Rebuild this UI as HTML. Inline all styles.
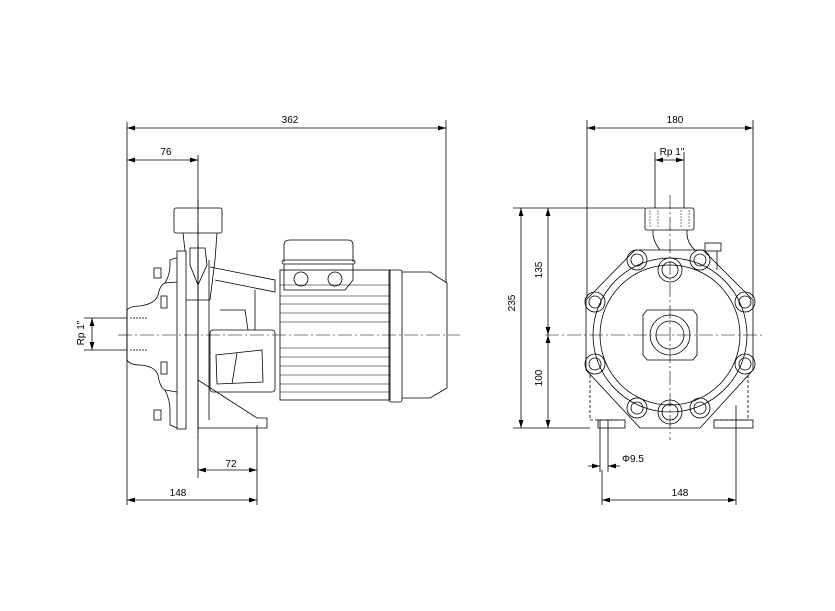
<!DOCTYPE html>
<html><head><style>
body{margin:0;background:#fff}
svg{display:block}
text{font-family:"Liberation Sans",sans-serif;font-size:10px;fill:#000}
</style></head><body>
<svg width="835" height="611" viewBox="0 0 835 611" xmlns="http://www.w3.org/2000/svg">
<defs>
<marker id="a" viewBox="0 0 10 6" refX="10" refY="3" markerWidth="8" markerHeight="5" orient="auto-start-reverse" markerUnits="userSpaceOnUse"><path d="M0,0L10,3L0,6z" fill="#000"/></marker>
</defs>
<rect width="835" height="611" fill="#fff"/>
<g stroke="#000" stroke-width="0.8" fill="none">
<!-- LEFT: dimensions -->
<line x1="127" y1="122" x2="127" y2="505"/>
<line x1="198" y1="155" x2="198" y2="478"/>
<line x1="446" y1="120" x2="446" y2="282"/>
<line x1="257" y1="425" x2="257" y2="505"/>
<line x1="127" y1="128" x2="446" y2="128" marker-start="url(#a)" marker-end="url(#a)"/>
<line x1="127" y1="160" x2="198" y2="160" marker-start="url(#a)" marker-end="url(#a)"/>
<line x1="198" y1="470" x2="257" y2="470" marker-start="url(#a)" marker-end="url(#a)"/>
<line x1="127" y1="500" x2="257" y2="500" marker-start="url(#a)" marker-end="url(#a)"/>
<line x1="84" y1="318" x2="127" y2="318"/>
<line x1="84" y1="350" x2="127" y2="350"/>
<line x1="92" y1="318" x2="92" y2="350" marker-start="url(#a)" marker-end="url(#a)"/>
<!-- centerlines -->
<line x1="118" y1="335" x2="460" y2="335" stroke-dasharray="14,3,2,3" stroke-width="0.6"/>
<line x1="198" y1="200" x2="198" y2="440" stroke-dasharray="14,3,2,3" stroke-width="0.6"/>
<!-- suction -->
<path d="M127,310 Q130,306 140,306 Q155,304 158,295 Q160,285 165,283 L177,282 M127,360 Q130,365 140,365 Q155,366 158,375 Q160,388 165,390 L177,392"/>
<path d="M127,310 L127,360"/>
<path d="M130,318 H148 M130,350 H148" stroke-dasharray="2,1"/>
<path d="M165,283 Q170,275 170,265 L170,260 Q175,258 177,258 M165,390 Q170,400 170,410 L170,425 L177,428"/>
<!-- bolts -->
<rect x="154" y="268" width="7" height="10"/><rect x="161" y="296" width="6" height="12"/><rect x="161" y="362" width="6" height="12"/><rect x="154" y="410" width="7" height="10"/>
<!-- flange plate -->
<rect x="177" y="251" width="9" height="178"/>
<line x1="186" y1="300" x2="210" y2="300"/>
<!-- outlet -->
<rect x="174" y="208" width="48" height="25" rx="2"/>
<path d="M183,233 L185,251 M217,233 L215,260 L210,300"/>
<path d="M190,248 L205,248 L207,265 L198,285 L190,265z"/>
<!-- volute body -->
<path d="M198,251 L198,428 L267,428 L267,418 L257,418 L198,380"/>
<path d="M209,260 L209,420"/>
<path d="M210,267 L275,280 L275,292 L215,280"/>
<!-- bracket -->
<rect x="210" y="330" width="65" height="62" rx="3"/>
<path d="M216,355 L262,350 L263,382 L217,384z M237,353 L232,384"/>
<path d="M220,310 L245,310 L248,330"/>
<path d="M255,290 L255,330"/>
<!-- terminal box -->
<path d="M284,262 L284,245 Q284,240 290,240 L348,240 Q353,240 353,245 L353,262"/>
<rect x="282" y="260" width="73" height="4" rx="2"/>
<path d="M284,264 L284,290 L345,290 L353,280 L353,264"/>
<circle cx="301" cy="279" r="7"/><circle cx="335" cy="279" r="7"/>
<!-- motor -->
<rect x="280" y="270" width="110" height="130"/>
<g stroke-width="0.6">
<line x1="280" y1="285" x2="390" y2="285"/><line x1="280" y1="296" x2="390" y2="296"/>
<line x1="280" y1="304" x2="390" y2="304"/><line x1="280" y1="313" x2="390" y2="313"/>
<line x1="280" y1="322" x2="390" y2="322"/><line x1="280" y1="348" x2="390" y2="348"/>
<line x1="280" y1="357" x2="390" y2="357"/><line x1="280" y1="366" x2="390" y2="366"/>
<line x1="280" y1="375" x2="390" y2="375"/><line x1="280" y1="384" x2="390" y2="384"/>
<line x1="280" y1="392" x2="390" y2="392"/>
</g>
<rect x="389" y="270" width="13" height="132" rx="2"/>
<path d="M402,272 L430,272 L447,283 L447,388 L430,398 L402,398"/>
<!-- RIGHT: dimensions -->
<line x1="587" y1="120" x2="587" y2="298"/>
<line x1="753" y1="120" x2="753" y2="298"/>
<line x1="587" y1="128" x2="753" y2="128" marker-start="url(#a)" marker-end="url(#a)"/>
<line x1="655" y1="152" x2="655" y2="208"/>
<line x1="684" y1="152" x2="684" y2="208"/>
<line x1="655" y1="160" x2="684" y2="160" marker-start="url(#a)" marker-end="url(#a)"/>
<line x1="513" y1="208" x2="645" y2="208"/>
<line x1="513" y1="428" x2="590" y2="428"/>
<line x1="521" y1="208" x2="521" y2="428" marker-start="url(#a)" marker-end="url(#a)"/>
<line x1="548" y1="208" x2="548" y2="335" marker-start="url(#a)" marker-end="url(#a)"/>
<line x1="548" y1="335" x2="548" y2="428" marker-start="url(#a)" marker-end="url(#a)"/>
<line x1="545" y1="335" x2="765" y2="335" stroke-dasharray="14,3,2,3" stroke-width="0.6"/>
<line x1="670" y1="195" x2="670" y2="440" stroke-dasharray="14,3,2,3" stroke-width="0.6"/>
<line x1="600" y1="420" x2="600" y2="472"/><line x1="608" y1="420" x2="608" y2="472"/>
<line x1="588" y1="466" x2="600" y2="466" marker-end="url(#a)"/>
<line x1="620" y1="466" x2="608" y2="466" marker-end="url(#a)"/>
<line x1="602" y1="470" x2="602" y2="505"/>
<line x1="736" y1="405" x2="736" y2="505"/>
<line x1="602" y1="500" x2="736" y2="500" marker-start="url(#a)" marker-end="url(#a)"/>
<!-- outlet -->
<rect x="645" y="208" width="49" height="22" rx="2"/>
<path d="M650,210 V228 M658,210 V228 M681,210 V228 M689,210 V228" stroke-dasharray="2,1" stroke-width="0.5"/>
<path d="M653,230 Q652,240 660,250 M687,230 Q686,242 695,250"/>
<rect x="705" y="243" width="16" height="8"/>
<path d="M717,251 V270"/>
<!-- octagon body -->
<path d="M635,250 L703,250 L753,300 L753,370 L700,428 L640,428 L586,370 L586,300 z"/>
<path d="M590,375 V420 H620 M748,375 V420 H715" stroke-dasharray="3,2"/>
<rect x="598" y="420" width="27" height="8"/><rect x="714" y="420" width="39" height="8"/>
<circle cx="670" cy="335" r="77"/>
<circle cx="670" cy="335" r="70"/>
<path d="M647,310 L693,310 L697,315 L697,355 L693,360 L647,360 L643,355 L643,315z"/>
<circle cx="670" cy="335" r="20"/><circle cx="670" cy="335" r="14"/>
<g>
<circle cx="637" cy="260" r="10"/><circle cx="637" cy="260" r="6"/>
<circle cx="700" cy="260" r="10"/><circle cx="700" cy="260" r="6"/>
<circle cx="595" cy="302" r="10"/><circle cx="595" cy="302" r="6"/>
<circle cx="745" cy="302" r="10"/><circle cx="745" cy="302" r="6"/>
<circle cx="595" cy="364" r="10"/><circle cx="595" cy="364" r="6"/>
<circle cx="745" cy="364" r="10"/><circle cx="745" cy="364" r="6"/>
<circle cx="637" cy="408" r="10"/><circle cx="637" cy="408" r="6"/>
<circle cx="700" cy="408" r="10"/><circle cx="700" cy="408" r="6"/>
<circle cx="670" cy="270" r="12"/><circle cx="670" cy="270" r="8"/>
<circle cx="670" cy="412" r="12"/><circle cx="670" cy="412" r="8"/>
</g>
</g>
<text x="290" y="123" text-anchor="middle">362</text>
<text x="166" y="155" text-anchor="middle">76</text>
<text x="231" y="467" text-anchor="middle">72</text>
<text x="178" y="496" text-anchor="middle">148</text>
<text transform="translate(84,333) rotate(-90)" text-anchor="middle">Rp 1"</text>
<text x="675" y="123" text-anchor="middle">180</text>
<text x="672" y="155" text-anchor="middle">Rp 1"</text>
<text transform="translate(515,303) rotate(-90)" text-anchor="middle">235</text>
<text transform="translate(542,270) rotate(-90)" text-anchor="middle">135</text>
<text transform="translate(542,378) rotate(-90)" text-anchor="middle">100</text>
<text x="622" y="462">Φ9.5</text>
<text x="680" y="496" text-anchor="middle">148</text>
</svg>
</body></html>
